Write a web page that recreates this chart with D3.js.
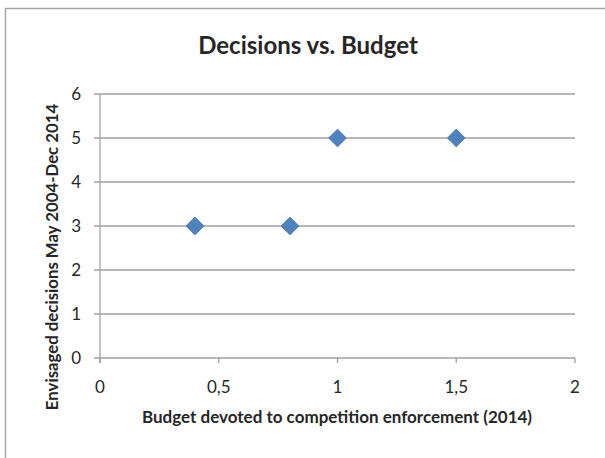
<!DOCTYPE html>
<html>
<head>
<meta charset="utf-8">
<script src="https://cdn.jsdelivr.net/npm/d3@7"></script>
<style>
  body { margin: 0; background: #fff; }
  text { font-family: Lato, "Liberation Sans", sans-serif; fill: #262626; }
</style>
</head>
<body>
<div id="chart"></div>
<script>
// data
var budget = [0.4, 0.8, 1, 1.5]
var decisions = [3, 3, 5, 5]
var xTicks = [0, 0.5, 1, 1.5, 2]
var yTicks = [0, 1, 2, 3, 4, 5, 6]

var width = 605
    height = 458
    margin = {left: 100, right: 30, top: 94, bottom: 100}

var svg = d3.select("#chart")
  .append("svg")
    .attr("width", width)
    .attr("height", height)

// chart area frame (cut off at right/bottom like the original)
svg.append("rect")
  .attr("x", 5.5).attr("y", 8.5)
  .attr("width", 620).attr("height", 470)
  .attr("fill", "none")
  .attr("stroke", "#a6a6a6")
  .attr("stroke-width", 1.5)

var x = d3.scaleLinear().domain([0, 2]).range([margin.left, 575])
var y = d3.scaleLinear().domain([0, 6]).range([358, margin.top])

// horizontal gridlines
svg.append("g")
  .selectAll("line")
  .data(yTicks)
  .enter()
  .append("line")
    .attr("x1", x(0) - 6)
    .attr("x2", x(2))
    .attr("y1", function(d) { return y(d) })
    .attr("y2", function(d) { return y(d) })
    .attr("stroke", "#a0a0a0")
    .attr("stroke-width", 1.3)

// y axis line
svg.append("line")
  .attr("x1", x(0)).attr("x2", x(0))
  .attr("y1", y(6)).attr("y2", y(0) + 5)
  .attr("stroke", "#a0a0a0")
  .attr("stroke-width", 1.3)

// x tick marks
svg.append("g")
  .selectAll("line")
  .data(xTicks)
  .enter()
  .append("line")
    .attr("x1", function(d) { return x(d) })
    .attr("x2", function(d) { return x(d) })
    .attr("y1", y(0))
    .attr("y2", y(0) + 5)
    .attr("stroke", "#a0a0a0")
    .attr("stroke-width", 1.3)

var fmt = function(d) { return String(d).replace(".", ",") }

svg.append("g")
  .selectAll("text")
  .data(yTicks)
  .enter()
  .append("text")
    .attr("x", 81)
    .attr("y", function(d) { return y(d) + 6 })
    .attr("text-anchor", "end")
    .style("font-size", "17px")
    .text(fmt)

svg.append("g")
  .selectAll("text")
  .data(xTicks)
  .enter()
  .append("text")
    .attr("x", function(d) { return x(d) })
    .attr("y", 393)
    .attr("text-anchor", "middle")
    .style("font-size", "17px")
    .text(fmt)

// markers
var diamond = d3.symbol().type(d3.symbolDiamond2).size(200)
svg.append("g")
  .selectAll("path")
  .data(budget)
  .enter()
  .append("path")
    .attr("d", diamond)
    .attr("transform", function(d, i) { return "translate(" + x(d) + "," + y(decisions[i]) + ")" })
    .attr("fill", "#4f81bd")
    .attr("stroke", "#4a7ebb")

// titles
svg.append("text")
  .attr("x", 308).attr("y", 54)
  .attr("text-anchor", "middle")
  .style("font-size", "24px")
  .style("font-weight", "bold")
  .text("Decisions vs. Budget")

svg.append("text")
  .attr("x", 337).attr("y", 423)
  .attr("text-anchor", "middle")
  .style("font-size", "17px")
  .style("font-weight", "bold")
  .text("Budget devoted to competition enforcement (2014)")

svg.append("text")
  .attr("transform", "translate(58,257) rotate(-90)")
  .attr("text-anchor", "middle")
  .style("font-size", "16.8px")
  .style("font-weight", "bold")
  .text("Envisaged decisions May 2004-Dec 2014")
</script>
</body>
</html>
